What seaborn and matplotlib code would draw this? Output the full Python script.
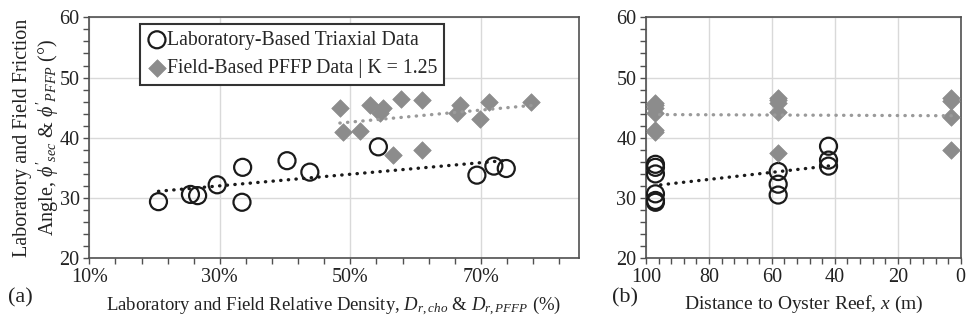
import numpy as np
import pandas as pd
import matplotlib
matplotlib.use("Agg")
import matplotlib.pyplot as plt
import seaborn as sns
from matplotlib.ticker import MultipleLocator, FuncFormatter

sns.set_theme(style="white")
plt.rcParams['font.family'] = ['Liberation Serif', 'DejaVu Serif']
plt.rcParams['mathtext.fontset'] = 'custom'
plt.rcParams['mathtext.rm'] = 'Liberation Serif'
plt.rcParams['mathtext.it'] = 'Liberation Serif:italic'
plt.rcParams['mathtext.bf'] = 'Liberation Serif:bold'

# ---- Panel (a) data: relative density (%) vs friction angle (deg)
lab_dr = [20.6, 25.5, 26.6, 29.6, 33.5, 33.4, 40.3, 43.8, 54.3, 69.4, 72.0, 73.9]
lab_phi = [29.4, 30.6, 30.4, 32.2, 35.1, 29.3, 36.2, 34.3, 38.5, 33.8, 35.3, 34.9]
field_dr = [48.4, 53.0, 55.0, 54.5, 57.7, 61.0, 48.9, 51.5, 56.5, 61.0, 66.8, 66.3, 69.8, 71.3, 77.7]
field_phi = [44.9, 45.4, 45.0, 44.1, 46.4, 46.3, 41.0, 41.1, 37.1, 38.0, 45.4, 44.1, 43.2, 46.0, 46.0]

# ---- Panel (b) data: distance to oyster reef (m) vs friction angle (deg)
lab_dist = [97, 97, 97, 97, 97, 97, 58, 58, 58, 42, 42, 42]
lab_phi_b = [35.6, 35.1, 34.0, 30.7, 29.6, 29.3, 34.4, 32.3, 30.5, 38.6, 36.3, 35.3]
field_dist = [97, 97, 97, 97, 97, 97, 58, 58, 58, 58, 58, 3, 3, 3, 3]
field_phi_b = [45.7, 45.4, 44.9, 44.1, 41.3, 41.0, 46.6, 46.2, 45.7, 44.3, 37.4, 46.6, 46.1, 43.4, 38.0]

lab_label = "Laboratory-Based Triaxial Data"
field_label = "Field-Based PFFP Data | K = 1.25"

df_lab_a = pd.DataFrame({"x": lab_dr, "y": lab_phi})
df_field_a = pd.DataFrame({"x": field_dr, "y": field_phi})
df_lab_b = pd.DataFrame({"x": lab_dist, "y": lab_phi_b})
df_field_b = pd.DataFrame({"x": field_dist, "y": field_phi_b})

W, H = 966, 324
fig = plt.figure(figsize=(W / 100, H / 100), dpi=100)
axa = fig.add_axes([89.3 / W, (H - 258.3) / H, 489.4 / W, 241 / H])
axb = fig.add_axes([646 / W, (H - 258.3) / H, 314.7 / W, 241 / H])

GRAY = "#8c8c8c"
LGRAY = "#9a9a9a"
SPINE = "#505050"
GRID = "#d9d9d9"
TXT = "#222222"

circ_kw = dict(marker="o", s=150, facecolor="none", edgecolor="#1a1a1a", linewidth=1.6, zorder=3)
diam_kw = dict(marker="D", s=80, color=GRAY, edgecolor=GRAY, linewidth=0.5, zorder=3)
dot_lab = dict(color="#1a1a1a", lw=2.4, linestyle=(0, (0.1, 2.2)), dash_capstyle="round", zorder=4)
dot_field = dict(color=LGRAY, lw=2.4, linestyle=(0, (0.1, 2.2)), dash_capstyle="round", zorder=4)


def style_axes(ax):
    ax.set_ylim(20, 60)
    ax.yaxis.set_major_locator(MultipleLocator(10))
    ax.yaxis.set_minor_locator(MultipleLocator(2))
    ax.grid(True, which="major", color=GRID, lw=1.0, zorder=0)
    ax.set_axisbelow(True)
    for sp in ax.spines.values():
        sp.set_visible(True)
        sp.set_color(SPINE)
        sp.set_linewidth(1.2)
    ax.tick_params(which="both", direction="out", length=4, width=1, color=SPINE,
                   labelsize=14.5, labelcolor=TXT, pad=3)
    ax.tick_params(axis="x", which="both", bottom=True, top=False)
    ax.tick_params(axis="y", which="both", left=True, right=False)


# Panel (a)
sns.scatterplot(data=df_lab_a, x="x", y="y", ax=axa, label=lab_label, **circ_kw)
sns.scatterplot(data=df_field_a, x="x", y="y", ax=axa, label=field_label, **diam_kw)
sns.regplot(data=df_lab_a, x="x", y="y", ax=axa, scatter=False, ci=None, truncate=True, line_kws=dot_lab)
sns.regplot(data=df_field_a, x="x", y="y", ax=axa, scatter=False, ci=None, truncate=True, line_kws=dot_field)
style_axes(axa)
axa.set_xlim(10, 85)
axa.set_xticks([10, 30, 50, 70])
axa.set_xticks(np.arange(10, 85, 4), minor=True)
axa.xaxis.set_major_formatter(FuncFormatter(lambda v, p: f"{v:.0f}%"))
axa.set_xlabel(r"Laboratory and Field Relative Density, $D_{r,cho}$ & $D_{r,PFFP}$ (%)",
               fontsize=13.5, color=TXT, labelpad=5)
axa.set_ylabel("")
leg = axa.legend(loc="upper left", bbox_to_anchor=(0.104, 0.972), fontsize=14.2,
                 frameon=True, fancybox=False, framealpha=1, edgecolor="#333333",
                 handletextpad=0.0, handlelength=1.0, borderpad=0.35, labelspacing=0.45,
                 borderaxespad=0)
leg.get_frame().set_linewidth(1.5)

fig.text(37 / W, 0.575, "Laboratory and Field Friction\n" + r"Angle, $\phi'_{sec}$ & $\phi'_{PFFP}$ (°)",
         rotation=90, ha="center", va="center", multialignment="center", fontsize=14.5,
         color=TXT, linespacing=1.1)

# Panel (b)
sns.scatterplot(data=df_lab_b, x="x", y="y", ax=axb, **circ_kw)
sns.scatterplot(data=df_field_b, x="x", y="y", ax=axb, **diam_kw)
sns.regplot(data=df_lab_b, x="x", y="y", ax=axb, scatter=False, ci=None, truncate=True, line_kws=dot_lab)
sns.regplot(data=df_field_b, x="x", y="y", ax=axb, scatter=False, ci=None, truncate=True, line_kws=dot_field)
style_axes(axb)
axb.set_xlim(100, 0)
axb.xaxis.set_major_locator(MultipleLocator(20))
axb.xaxis.set_minor_locator(MultipleLocator(4))
axb.set_xlabel(r"Distance to Oyster Reef, $x$ (m)", fontsize=14, color=TXT, labelpad=5)
axb.set_ylabel("")

fig.text(20 / W, 1 - 298 / H, "(a)", ha="center", va="center", fontsize=16, color=TXT)
fig.text(625 / W, 1 - 298 / H, "(b)", ha="center", va="center", fontsize=16, color=TXT)

fig.savefig("out.png", dpi=100, facecolor="white")
